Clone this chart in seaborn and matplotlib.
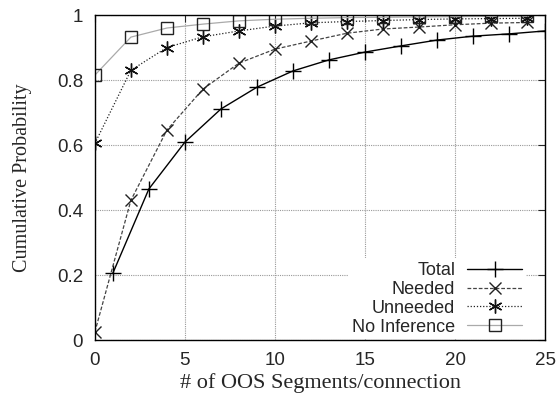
import matplotlib
matplotlib.use("Agg")
import matplotlib.pyplot as plt
import seaborn as sns
import pandas as pd

total_x = [1, 3, 5, 7, 9, 11, 13, 15, 17, 19, 21, 23, 25]
total_y = [0.206, 0.465, 0.609, 0.711, 0.778, 0.828, 0.862, 0.886, 0.905, 0.923, 0.935, 0.942, 0.951]

even_x = [0, 2, 4, 6, 8, 10, 12, 14, 16, 18, 20, 22, 24]
needed_y = [0.025, 0.43, 0.646, 0.772, 0.852, 0.895, 0.92, 0.944, 0.957, 0.963, 0.97, 0.975, 0.977]
unneeded_y = [0.605, 0.83, 0.90, 0.933, 0.951, 0.966, 0.976, 0.980, 0.983, 0.986, 0.988, 0.989, 0.990]
noinf_y = [0.815, 0.932, 0.960, 0.972, 0.982, 0.987, 0.990, 0.992, 0.993, 0.994, 0.995, 0.996, 0.996]

sns.set_style("white")
plt.rcParams['font.family'] = ['Liberation Sans', 'DejaVu Sans']

fig = plt.figure(figsize=(5.58, 3.95), dpi=100)
ax = fig.add_axes([0.170, 0.139, 0.807, 0.823])

series = [
    ("Total", total_x, total_y, dict(color="black", linestyle="-", marker="+", markersize=11, linewidth=1.0,
                                     markeredgewidth=1.0, markeredgecolor="black")),
    ("Needed", even_x, needed_y, dict(color="#444444", linestyle=(0, (3, 1.5)), marker="x", markersize=8, linewidth=0.9,
                                      markeredgewidth=1.0, markeredgecolor="#222222")),
    ("Unneeded", even_x, unneeded_y, dict(color="#222222", linestyle=(0, (1, 1.5)), marker=(6, 2, 0), markersize=10, linewidth=0.9,
                                          markeredgewidth=1.0, markeredgecolor="#111111")),
    ("No Inference", even_x, noinf_y, dict(color="#aaaaaa", linestyle="-", marker="s", markersize=8, linewidth=0.9,
                                           markeredgewidth=1.0, markerfacecolor="none", markeredgecolor="#222222")),
]

for name, xs, ys, kw in series:
    df = pd.DataFrame({"x": xs, "y": ys})
    sns.lineplot(data=df, x="x", y="y", ax=ax, label=name, **kw)

ax.set_xlim(0, 25)
ax.set_ylim(0, 1)
ax.set_xticks([0, 5, 10, 15, 20, 25])
ax.set_yticks([0, 0.2, 0.4, 0.6, 0.8, 1.0])
ax.set_yticklabels(["0", "0.2", "0.4", "0.6", "0.8", "1"])
ax.grid(True, color="#999999", linestyle=(0, (1, 1)), linewidth=0.8)
ax.tick_params(direction="in", length=5, top=True, right=True, labelsize=13.5, width=0.8)
ax.tick_params(axis="x", pad=8.5)
ax.tick_params(axis="y", pad=8.5)
for s in ax.spines.values():
    s.set_color("black")
    s.set_linewidth(1.0)

ax.set_xlabel("# of OOS Segments/connection", family=["Liberation Serif"], fontsize=16, labelpad=3)
ax.set_ylabel("Cumulative Probability", family=["Liberation Serif"], fontsize=14.5, labelpad=18)

leg = ax.legend(loc="lower right", bbox_to_anchor=(0.957, 0.003), markerfirst=False, frameon=True, fontsize=13,
                handlelength=3.05, handletextpad=0.66, labelspacing=0.1, borderpad=0.2,
                borderaxespad=0.0)
leg.get_frame().set_facecolor("white")
leg.get_frame().set_edgecolor("none")
leg.get_frame().set_alpha(1.0)
for t in leg.get_texts():
    t.set_ha("right")

fig.savefig("out.png", dpi=100)
